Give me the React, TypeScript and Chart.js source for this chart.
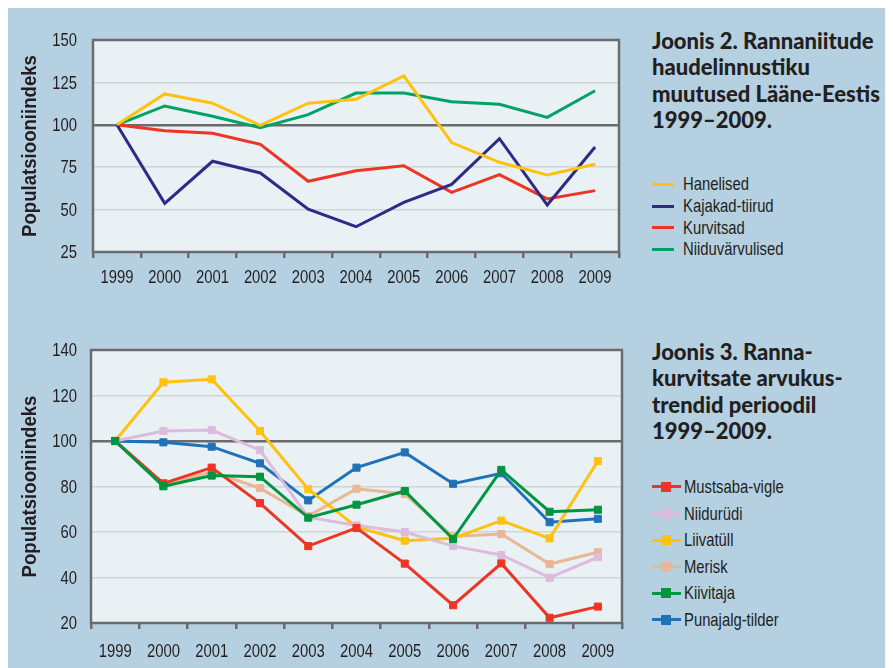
import React, { useEffect, useRef } from "react";
import { Chart, registerables } from "chart.js";

Chart.register(...registerables);

// ---------- data ----------
const years = ["1999", "2000", "2001", "2002", "2003", "2004", "2005", "2006", "2007", "2008", "2009"];

// Joonis 2
const topTitleLines = ["Joonis 2. Rannaniitude", "haudelinnustiku", "muutused Lääne-Eestis", "1999–2009."];
const topNames = ["Hanelised", "Kajakad-tiirud", "Kurvitsad", "Niiduvärvulised"];
const hanelised = [100, 118.2, 112.7, 99.7, 112.7, 115, 128.8, 89.5, 77.9, 70.4, 76.7];
const kajakadTiirud = [100, 53.7, 78.5, 71.6, 50.2, 39.9, 54.3, 64.9, 91.8, 52.7, 86.9];
const kurvitsad = [100, 96.5, 95, 88.5, 66.7, 72.9, 75.9, 60.2, 70.6, 56.3, 61.2];
const niiduvarvulised = [100, 111.1, 105, 98.3, 106, 118.7, 118.7, 113.6, 112.1, 104.4, 120.1];
const topColors = ["#ffc20e", "#2e2a86", "#ee3524", "#00a266"];
const topTicks = [25, 50, 75, 100, 125, 150];

// Joonis 3
const bottomTitleLines = ["Joonis 3. Ranna-", "kurvitsate arvukus-", "trendid perioodil", "1999–2009."];
const bottomNames = ["Mustsaba-vigle", "Niidurüdi", "Liivatüll", "Merisk", "Kiivitaja", "Punajalg-tilder"];
const mustsabaVigle = [100, 81.4, 88.3, 72.7, 53.8, 61.8, 46.1, 27.8, 46.2, 22.3, 27.2];
const niidurudi = [100, 104.4, 104.8, 96, 66.5, 62.9, 60, 53.8, 49.9, 39.9, 48.9];
const liivatull = [100, 125.8, 127.1, 104.4, 78.8, 62.2, 56.2, 57.2, 65, 57.2, 91.2];
const merisk = [100, 80.7, 86.5, 79.3, 67, 79, 76.7, 58, 59.1, 45.9, 51.1];
const kiivitaja = [100, 80.1, 84.8, 84.3, 66.3, 72, 78, 56.9, 87.3, 68.9, 69.8];
const punajalgTilder = [100, 99.4, 97.5, 90.2, 73.9, 88.3, 95, 81.2, 85.8, 64.3, 65.8];
const bottomColors = ["#ee3524", "#dcbcdc", "#ffc20e", "#e8b894", "#009540", "#1f72b8"];
const bottomOrder = [2, 3, 4, 5, 1, 6];
const bottomTicks = [20, 40, 60, 80, 100, 120, 140];

const yTitle = "Populatsiooniindeks";

// ---------- styles ----------
const PANEL_BG = "#b5d0e1";
const PLOT_BG = "#e9f1f5";
const AXIS = "#6b6b6d";
const GRID = "#cdd5d9";
const TEXT = "#231f20";
const SANS = "'Liberation Sans', Arial, sans-serif";
const SQUEEZE = 0.78;

function squeezedText(ctx: CanvasRenderingContext2D, text: string, x: number, y: number, k: number, rot = 0) {
  ctx.save();
  ctx.translate(x, y);
  if (rot) ctx.rotate(rot);
  ctx.scale(k, 1);
  ctx.fillText(text, 0, 0);
  ctx.restore();
}

const plotFrame = {
  id: "plotFrame",
  beforeDraw(chart: any) {
    const { ctx, chartArea } = chart;
    ctx.save();
    ctx.fillStyle = PLOT_BG;
    ctx.fillRect(chartArea.left, chartArea.top, chartArea.right - chartArea.left, chartArea.bottom - chartArea.top);
    ctx.restore();
  },
  beforeDatasetsDraw(chart: any) {
    const { ctx, chartArea } = chart;
    ctx.save();
    ctx.strokeStyle = AXIS;
    ctx.lineWidth = 2.5;
    ctx.strokeRect(chartArea.left, chartArea.top, chartArea.right - chartArea.left, chartArea.bottom - chartArea.top);
    ctx.restore();
  },
};

// condensed axis texts, positioned through the chart's own scales
const condensedLabels = {
  id: "condensedLabels",
  afterDraw(chart: any, _args: any, opts: any) {
    const { ctx, chartArea } = chart;
    const xs = chart.scales.x;
    const ys = chart.scales.y;
    ctx.save();
    ctx.fillStyle = TEXT;
    ctx.font = `19px ${SANS}`;
    ctx.textAlign = "center";
    ctx.textBaseline = "middle";
    xs.ticks.forEach((t: any, i: number) => {
      squeezedText(ctx, String(xs.getLabelForValue(t.value)), xs.getPixelForTick(i), chartArea.bottom + opts.xLabelOffset, SQUEEZE);
    });
    ctx.textAlign = "right";
    ys.ticks.forEach((t: any) => {
      squeezedText(ctx, String(t.value), chartArea.left - opts.yLabelPad, ys.getPixelForValue(t.value) + 1, SQUEEZE);
    });
    ctx.textAlign = "center";
    ctx.font = `bold 20px ${SANS}`;
    squeezedText(ctx, yTitle, opts.titleX, (chartArea.top + chartArea.bottom) / 2, 0.93, -Math.PI / 2);
    ctx.restore();
  },
};

type Cfg = {
  datasets: any[];
  ticks: number[];
  yWidth: number;
  xHeight: number;
  padTop: number;
  padRight: number;
  xLabelOffset: number;
  yLabelPad: number;
};

function makeConfig(c: Cfg): any {
  return {
    type: "line",
    data: { labels: years, datasets: c.datasets },
    options: {
      responsive: false,
      animation: false,
      events: [],
      layout: { padding: { top: c.padTop, right: c.padRight, left: 0, bottom: 0 } },
      plugins: {
        legend: { display: false },
        tooltip: { enabled: false },
        title: { display: false },
        condensedLabels: { xLabelOffset: c.xLabelOffset, yLabelPad: c.yLabelPad, titleX: 22 },
      },
      scales: {
        x: {
          type: "category",
          offset: true,
          border: { display: false },
          grid: {
            display: true,
            offset: true,
            drawOnChartArea: false,
            drawTicks: true,
            tickLength: 6,
            color: AXIS,
            lineWidth: 2.5,
          },
          ticks: { display: false, autoSkip: false },
          afterFit: (s: any) => {
            s.height = c.xHeight;
          },
        },
        y: {
          min: c.ticks[0],
          max: c.ticks[c.ticks.length - 1],
          border: { display: false },
          afterBuildTicks: (s: any) => {
            s.ticks = c.ticks.map((v) => ({ value: v }));
          },
          grid: {
            drawTicks: false,
            color: (ctx: any) => (ctx.tick && ctx.tick.value === 100 ? AXIS : GRID),
            lineWidth: (ctx: any) => (ctx.tick && ctx.tick.value === 100 ? 2.5 : 1.5),
          },
          ticks: { display: false },
          afterFit: (s: any) => {
            s.width = c.yWidth;
          },
        },
      },
    },
    plugins: [plotFrame, condensedLabels],
  };
}

function LineCanvas({ cfg, width, height, top }: { cfg: Cfg; width: number; height: number; top: number }) {
  const ref = useRef<HTMLCanvasElement | null>(null);
  useEffect(() => {
    if (!ref.current) return;
    const chart = new Chart(ref.current, makeConfig(cfg));
    return () => chart.destroy();
  }, []);
  return <canvas ref={ref} width={width} height={height} style={{ position: "absolute", left: 0, top, width, height }} />;
}

function TitleBlock({ lines, top }: { lines: string[]; top: number }) {
  return (
    <div
      style={{
        position: "absolute",
        left: 644,
        top,
        fontFamily: "Lato, 'Noto Sans', sans-serif",
        fontWeight: 900,
        fontSize: 22,
        lineHeight: "26.5px",
        color: TEXT,
        whiteSpace: "nowrap",
      }}
    >
      {lines.map((l, i) => (
        <div key={i}>{l}</div>
      ))}
    </div>
  );
}

function Legend({
  names,
  colors,
  top,
  rowH,
  markers,
}: {
  names: string[];
  colors: string[];
  top: number;
  rowH: number;
  markers: boolean;
}) {
  return (
    <div style={{ position: "absolute", left: 644, top, fontFamily: SANS, fontSize: 19, color: TEXT }}>
      {names.map((n, i) => (
        <div key={n} style={{ display: "flex", alignItems: "center", height: rowH, whiteSpace: "nowrap" }}>
          <div style={{ position: "relative", width: markers ? 29 : 22, height: 10, marginRight: markers ? 3 : 9, flex: "none" }}>
            <div
              style={{
                position: "absolute",
                left: 0,
                right: 0,
                top: 3.5,
                height: 3,
                background: colors[i],
              }}
            />
            {markers && (
              <div style={{ position: "absolute", left: 9, top: 0, width: 10, height: 10, background: colors[i] }} />
            )}
          </div>
          <span style={{ display: "inline-block", transform: `scaleX(${SQUEEZE})`, transformOrigin: "left center" }}>{n}</span>
        </div>
      ))}
    </div>
  );
}

export default function App() {
  const topSeries = [hanelised, kajakadTiirud, kurvitsad, niiduvarvulised];
  const topDatasets = topSeries.map((d, i) => ({
    label: topNames[i],
    data: d,
    borderColor: topColors[i],
    backgroundColor: topColors[i],
    borderWidth: 3,
    pointRadius: 0,
    tension: 0,
    fill: false,
  }));
  const bottomSeries = [mustsabaVigle, niidurudi, liivatull, merisk, kiivitaja, punajalgTilder];
  const bottomDatasets = bottomSeries.map((d, i) => ({
    label: bottomNames[i],
    data: d,
    borderColor: bottomColors[i],
    backgroundColor: bottomColors[i],
    borderWidth: 3,
    pointStyle: "rect",
    pointRadius: 5,
    pointBorderWidth: 1,
    pointBackgroundColor: bottomColors[i],
    pointBorderColor: bottomColors[i],
    tension: 0,
    fill: false,
    order: bottomOrder[i],
  }));

  const topCfg: Cfg = {
    datasets: topDatasets,
    ticks: topTicks,
    yWidth: 85,
    xHeight: 55,
    padTop: 33,
    padRight: 14,
    xLabelOffset: 26,
    yLabelPad: 16,
  };
  const bottomCfg: Cfg = {
    datasets: bottomDatasets,
    ticks: bottomTicks,
    yWidth: 83,
    xHeight: 45,
    padTop: 33,
    padRight: 11,
    xLabelOffset: 29,
    yLabelPad: 14,
  };

  return (
    <div style={{ position: "relative", width: 885, height: 661, marginTop: -1, background: PANEL_BG, overflow: "hidden" }}>
      <LineCanvas cfg={topCfg} width={625} height={300} top={0} />
      <LineCanvas cfg={bottomCfg} width={625} height={351} top={310} />
      <TitleBlock lines={topTitleLines} top={20.5} />
      <TitleBlock lines={bottomTitleLines} top={331.5} />
      <Legend names={topNames} colors={topColors} top={166.5} rowH={21.7} markers={false} />
      <Legend names={bottomNames} colors={bottomColors} top={466.7} rowH={26.6} markers={true} />
    </div>
  );
}
